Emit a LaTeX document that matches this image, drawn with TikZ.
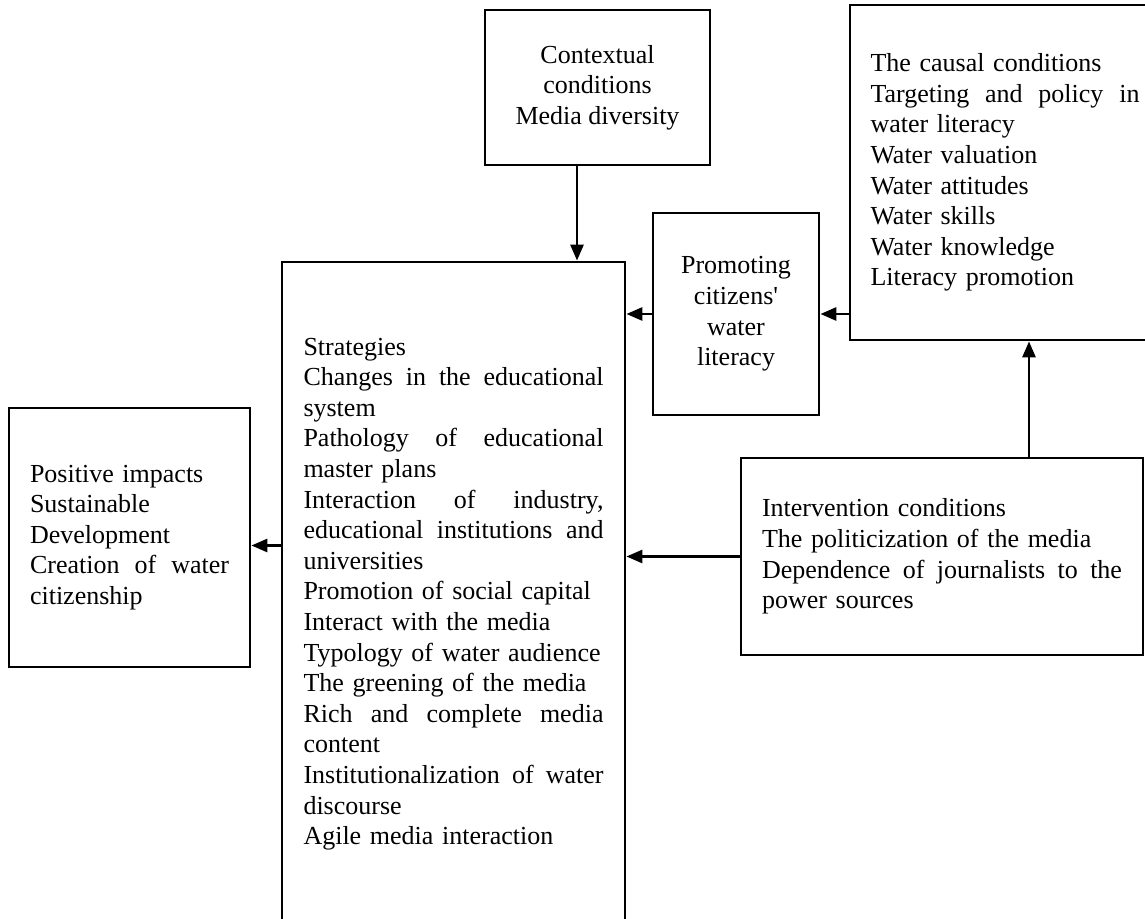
\documentclass[tikz,border=0pt]{standalone}
\usepackage{fontspec}
\setmainfont{Liberation Serif}
\usetikzlibrary{arrows.meta}
\newcommand{\jline}[1]{\makebox[\hsize][s]{\spaceskip=0.25em plus 1em\relax #1}}

\begin{document}
\begin{tikzpicture}[x=0.5pt,y=-0.5pt,->,>={Triangle[length=8pt,width=6.5pt]},line width=1.4pt,
	box node/.style={draw,rectangle,inner sep=0pt,font=\fontsize{13pt}{15.3pt}\selectfont}]
	\useasboundingbox (0,0) rectangle (1145,919);
	\node[box node,minimum width=112.5pt,minimum height=77.5pt,align=center] (ctx) at (597.5,87.5)
	{Contextual\\conditions\\Media diversity};
	\node[box node,minimum width=155pt,minimum height=167.5pt,text width=134.5pt,align=left] (causal) at (1005,172.5)
	{The causal conditions\\\jline{Targeting and policy in}\\water literacy\\Water valuation\\Water attitudes\\Water skills\\Water knowledge\\Literacy promotion};
	\node[box node,minimum width=83pt,minimum height=101pt,align=center] (promo) at (736,314)
	{Promoting\\citizens\textquotesingle\\water\\literacy};
	\node[box node,minimum width=171.5pt,minimum height=332pt,text width=150pt,align=left] (strat) at (453.5,594)
	{Strategies\\
	\jline{Changes in the educational}\\
	system\\
	\jline{Pathology of educational}\\
	master plans\\
	\jline{Interaction of industry,}\\
	\jline{educational institutions and}\\
	universities\\
	Promotion of social capital\\
	Interact with the media\\
	Typology of water audience\\
	The greening of the media\\
	\jline{Rich and complete media}\\
	content\\
	\jline{Institutionalization of water}\\
	discourse\\
	Agile media interaction};
	\node[box node,minimum width=120.5pt,minimum height=129.5pt,text width=99.5pt,align=left] (impact) at (129.5,537.5)
	{Positive impacts\\Sustainable\\Development\\\jline{Creation of water}\\citizenship};
	\node[box node,minimum width=201pt,minimum height=98.5pt,text width=180pt,align=left] (interv) at (942,556.5)
	{Intervention conditions\\The politicization of the media\\\jline{Dependence of journalists to the}\\power sources};
	% connectors
	\coordinate (ctxout) at ([xshift=-10.25pt]ctx.south);
	\coordinate (intout) at ([xshift=43.5pt]interv.north);
	\coordinate (impin) at ([yshift=-4pt]impact.east);
	\draw (ctxout) -- (ctxout |- strat.north);
	\draw (causal.west |- promo.west) -- (promo.east);
	\draw (promo.west) -- (promo.west -| strat.east);
	\draw (interv.west) -- (interv.west -| strat.east);
	\draw (intout) -- (intout |- causal.south);
	\draw (strat.west |- impin) -- (impin);
\end{tikzpicture}
\end{document}
